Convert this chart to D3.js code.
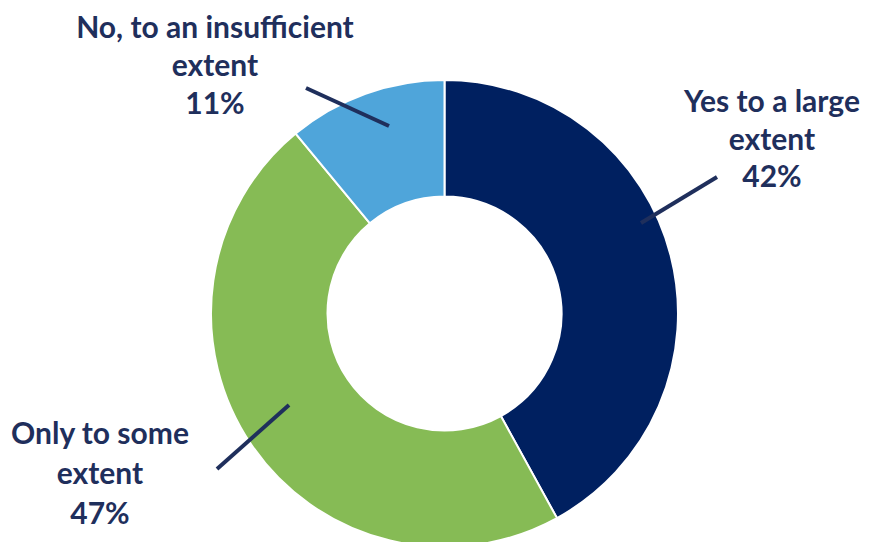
<!DOCTYPE html>
<html>
<head>
<meta charset="utf-8">
<script src="https://cdn.jsdelivr.net/npm/d3@7"></script>
<style>
  html, body { margin: 0; padding: 0; background: #ffffff; }
  svg { display: block; }
  text { font-family: Lato, "Open Sans", sans-serif; font-weight: 700; fill: #1f2f5c; }
</style>
</head>
<body>
<svg id="chart" width="869" height="542"></svg>
<script>
// Survey answers, in drawing order (clockwise from 12 o'clock)
const categories = ["Yes to a large extent", "Only to some extent", "No, to an insufficient extent"];
const shares = [42, 47, 11];
const labelLines = [
  ["Yes to a large", "extent"],
  ["Only to some", "extent"],
  ["No, to an insufficient", "extent"]
];
const sliceColors = ["#002060", "#86bb55", "#4fa5da"];

const svg = d3.select("#chart");
const cx = 444.5, cy = 313.5;
const outerR = 233.5, innerR = 117;

const data = categories.map((c, i) => ({ name: c, value: shares[i], lines: labelLines[i], color: sliceColors[i] }));

const pie = d3.pie().value(d => d.value).sort(null);
const arc = d3.arc().innerRadius(innerR).outerRadius(outerR);
const arcs = pie(data);

const g = svg.append("g").attr("transform", `translate(${cx},${cy})`);
g.selectAll("path.slice")
  .data(arcs)
  .join("path")
  .attr("class", "slice")
  .attr("d", arc)
  .attr("fill", d => d.data.color)
  .attr("stroke", "#ffffff")
  .attr("stroke-width", 2);

// Label anchors and the short leader strokes joining them to their slices
const labelPos = [
  { x: 772, y: 112 },
  { x: 100, y: 444 },
  { x: 215, y: 38 }
];
const leaderEnds = [
  { x1: 641, y1: 223, x2: 717, y2: 177 },
  { x1: 289, y1: 405, x2: 217, y2: 469 },
  { x1: 389, y1: 126, x2: 306, y2: 88 }
];

svg.selectAll("line.leader")
  .data(leaderEnds)
  .join("line")
  .attr("class", "leader")
  .attr("x1", d => d.x1).attr("y1", d => d.y1)
  .attr("x2", d => d.x2).attr("y2", d => d.y2)
  .attr("stroke", "#1f2f5c")
  .attr("stroke-width", 4);

const lineGap = [37.5, 40, 38];
const labels = svg.selectAll("text.label")
  .data(arcs)
  .join("text")
  .attr("class", "label")
  .attr("text-anchor", "middle")
  .attr("font-size", 30);

labels.each(function (d, i) {
  const t = d3.select(this);
  const p = labelPos[i];
  d.data.lines.concat([d.data.value + "%"]).forEach((ln, j) => {
    t.append("tspan")
      .attr("x", p.x)
      .attr("y", p.y + j * lineGap[i])
      .text(ln);
  });
});
</script>
</body>
</html>
